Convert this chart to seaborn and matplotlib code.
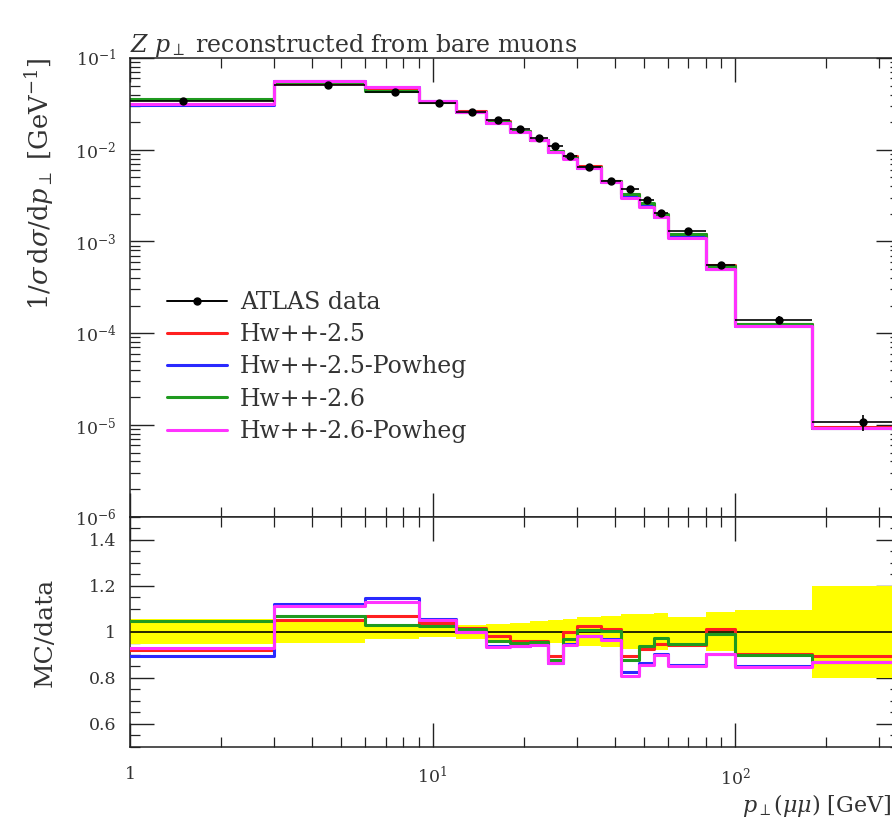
import numpy as np
import pandas as pd
import matplotlib
matplotlib.use("Agg")
import matplotlib.pyplot as plt
import matplotlib.ticker as mticker
from matplotlib.lines import Line2D
import seaborn as sns

# ---------------- data ----------------
bin_edges = [0, 3, 6, 9, 12, 15, 18, 21, 24, 27, 30, 36, 42, 48, 54, 60, 80, 100, 180, 350]
data_vals = [0.034, 0.0507, 0.0425, 0.032, 0.0257, 0.0210, 0.0168, 0.0134, 0.0109, 0.0085,
             0.00646, 0.00456, 0.00371, 0.00280, 0.00204, 0.00129, 0.00055, 1.41e-4, 1.07e-5]
data_relerr = [0.055, 0.05, 0.03, 0.025, 0.03, 0.035, 0.04, 0.045, 0.05, 0.054,
               0.062, 0.068, 0.075, 0.075, 0.08, 0.065, 0.085, 0.095, 0.20]

labels = ["Hw++-2.5", "Hw++-2.5-Powheg", "Hw++-2.6", "Hw++-2.6-Powheg"]
ratio_hw25 = [0.92, 1.05, 1.07, 1.04, 1.018, 0.98, 0.96, 0.96, 0.895, 0.997,
              1.024, 1.012, 0.893, 0.925, 0.945, 0.942, 1.013, 0.905, 0.895]
ratio_hw25_powheg = [0.893, 1.12, 1.145, 1.055, 1.0, 0.937, 0.937, 0.945, 0.862, 0.948,
                     0.98, 0.968, 0.825, 0.862, 0.905, 0.857, 0.905, 0.85, 0.87]
ratio_hw26 = [1.046, 1.068, 1.03, 1.025, 1.01, 0.96, 0.953, 0.955, 0.878, 0.968,
              1.007, 1.002, 0.879, 0.94, 0.974, 0.945, 0.99, 0.90, 0.87]
ratio_hw26_powheg = [0.927, 1.112, 1.13, 1.05, 0.998, 0.935, 0.937, 0.943, 0.866, 0.944,
                     0.98, 0.966, 0.808, 0.855, 0.90, 0.853, 0.903, 0.848, 0.868]
colors = ["#ff2020", "#2a2aff", "#1f9a1f", "#ff33ff"]

# ---------------- style ----------------
sns.set_theme(style="ticks")
plt.rcParams["font.family"] = ["DejaVu Serif"]
plt.rcParams["mathtext.fontset"] = "dejavuserif"
plt.rcParams["axes.linewidth"] = 1.1
plt.rcParams["axes.edgecolor"] = "#222222"

W, H = 892, 818
fig = plt.figure(figsize=(W / 100, H / 100), dpi=100)
x0 = 130 / W
x1 = 899.6 / W
ax = fig.add_axes([x0, 1 - 516.7 / H, x1 - x0, (516.7 - 58) / H])
rax = fig.add_axes([x0, 1 - 746.7 / H, x1 - x0, (746.7 - 516.7) / H], sharex=ax)

edges = np.array(bin_edges, dtype=float)
edges_plot = np.maximum(edges, 0.5)
centers = 0.5 * (edges[:-1] + edges[1:])
data = np.array(data_vals)
relerr = np.array(data_relerr)
ratios = [np.array(r) for r in (ratio_hw25, ratio_hw25_powheg, ratio_hw26, ratio_hw26_powheg)]

for a in (ax, rax):
    a.set_xscale("log")

# long-form frames for step lines
rows_main, rows_ratio = [], []
for lab, r in zip(labels, ratios):
    mc = r * data
    mc_ext = np.append(mc, mc[-1])
    r_ext = np.append(r, r[-1])
    for xe, ym, yr in zip(edges_plot, mc_ext, r_ext):
        rows_main.append((lab, xe, ym))
        rows_ratio.append((lab, xe, yr))
df_main = pd.DataFrame(rows_main, columns=["model", "pt", "val"])
df_ratio = pd.DataFrame(rows_ratio, columns=["model", "pt", "val"])
pal = dict(zip(labels, colors))

# ---------------- main panel ----------------
ax.set_yscale("log")
sns.lineplot(data=df_main, x="pt", y="val", hue="model", palette=pal, hue_order=labels,
             estimator=None, sort=False, drawstyle="steps-post", linewidth=2.2,
             legend=False, ax=ax)
ax.errorbar(centers, data, yerr=relerr * data,
            xerr=[centers - np.maximum(edges[:-1], 0.5), edges[1:] - centers],
            fmt="o", color="black", ms=5, elinewidth=1.2, capsize=0, zorder=5)
ax.set_xlim(1, 350)
ax.set_ylim(1e-6, 1e-1)
ax.set_xlabel("")
ax.set_ylabel("")
ax.yaxis.set_major_locator(mticker.LogLocator(base=10, numticks=20))
ax.yaxis.set_minor_locator(mticker.LogLocator(base=10, subs=np.arange(2, 10), numticks=100))
ax.yaxis.set_minor_formatter(mticker.NullFormatter())
plt.setp(ax.get_xticklabels(which="both"), visible=False)

# ---------------- ratio panel ----------------
band_lo = np.append(1 - relerr, 1 - relerr[-1])
band_hi = np.append(1 + relerr, 1 + relerr[-1])
rax.fill_between(edges_plot, band_lo, band_hi, step="post", color="#ffff00", lw=0, zorder=1)
rax.axhline(1.0, color="black", lw=1.2, zorder=2)
sns.lineplot(data=df_ratio, x="pt", y="val", hue="model", palette=pal, hue_order=labels,
             estimator=None, sort=False, drawstyle="steps-post", linewidth=2.2,
             legend=False, ax=rax, zorder=3)
rax.set_xlim(1, 350)
rax.set_ylim(0.5, 1.5)
rax.set_xlabel("")
rax.set_ylabel("")
rax.yaxis.set_major_locator(mticker.FixedLocator([0.6, 0.8, 1.0, 1.2, 1.4]))
rax.yaxis.set_major_formatter(mticker.FixedFormatter(["0.6", "0.8", "1", "1.2", "1.4"]))
rax.yaxis.set_minor_locator(mticker.MultipleLocator(0.05))
rax.xaxis.set_major_locator(mticker.FixedLocator([1, 10, 100]))
rax.xaxis.set_major_formatter(mticker.FixedFormatter(["1", "$10^{1}$", "$10^{2}$"]))
rax.xaxis.set_minor_locator(mticker.LogLocator(base=10, subs=np.arange(2, 10), numticks=100))
rax.xaxis.set_minor_formatter(mticker.NullFormatter())

for a in (ax, rax):
    a.tick_params(which="both", direction="in", top=True, right=True, colors="#222222",
                  labelsize=12.5, labelcolor="#333333")
    a.tick_params(which="major", length=17, width=1.0)
    a.tick_params(which="minor", length=7.5, width=0.9)
    a.tick_params(axis="y", pad=10)
rax.tick_params(axis="x", pad=14)

# ---------------- texts ----------------
fig.text(x0, 1 - 52 / H, r"$Z\ p_{\perp}$ reconstructed from bare muons",
         fontsize=17, color="#333333", ha="left", va="baseline")
fig.text(40 / W, 1 - 58 / H, r"$1/\sigma\,\mathrm{d}\sigma/\mathrm{d}p_{\perp}$ [GeV$^{-1}$]",
         rotation=90, fontsize=18.5, color="#333333", ha="center", va="top")
fig.text(45 / W, 1 - 632 / H, "MC/data", rotation=90, fontsize=18, color="#333333",
         ha="center", va="center")
fig.text(891 / W, 1 - 812 / H, r"$p_{\perp}(\mu\mu)$ [GeV]", fontsize=16, color="#333333",
         ha="right", va="baseline")

handles = [Line2D([], [], color="black", marker="o", ms=5, lw=1.4)]
handles += [Line2D([], [], color=c, lw=2.2) for c in colors]
leg = ax.legend(handles, ["ATLAS data"] + labels, loc="upper left",
                bbox_to_anchor=(167 / W, 1 - 291 / H), bbox_transform=fig.transFigure,
                frameon=False, fontsize=17, handlelength=2.55, handletextpad=0.55,
                labelspacing=0.39, borderpad=0, borderaxespad=0)
for t in leg.get_texts():
    t.set_color("#333333")

fig.savefig("out.png", dpi=100)
